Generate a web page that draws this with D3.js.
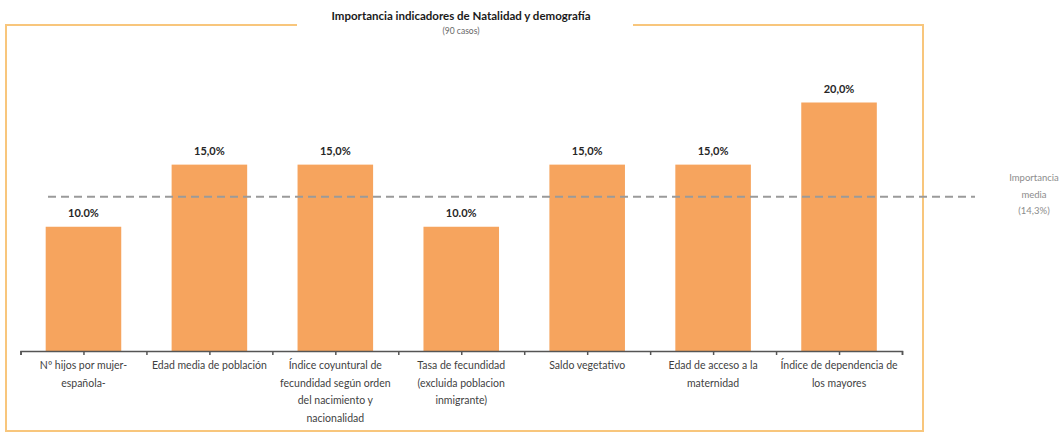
<!DOCTYPE html>
<html>
<head>
<meta charset="utf-8">
<script src="https://cdn.jsdelivr.net/npm/d3@7/dist/d3.min.js"></script>
<style>
  html, body { margin: 0; padding: 0; background: #fff; }
  svg { display: block; font-family: Lato, "Open Sans", sans-serif; }
</style>
</head>
<body>
<svg id="chart" width="1063" height="433"></svg>
<script>
// Indicator names (multi-line labels under the axis)
const categories = [
  ["Nº hijos por mujer-", "española-"],
  ["Edad media de población"],
  ["Índice coyuntural de", "fecundidad según orden", "del nacimiento y", "nacionalidad"],
  ["Tasa de fecundidad", "(excluida poblacion", "inmigrante)"],
  ["Saldo vegetativo"],
  ["Edad de acceso a la", "maternidad"],
  ["Índice de dependencia de", "los mayores"]
];
// Importance of each indicator, in percent
const values = [10, 15, 15, 10, 15, 15, 20];
// Decimal separator used in each value label
const separators = [".", ",", ",", ".", ",", ",", ","];

const title = "Importancia indicadores de Natalidad y demografía";
const subtitle = "(90 casos)";
const meanLabel = ["Importancia", "media"];

const svg = d3.select("#chart");

const frame = { left: 6, top: 25, right: 923, bottom: 431, gapL: 297, gapR: 633 };
const plot = { left: 20.5, right: 902, top: 102.5, base: 351 };

const keys = categories.map((_, i) => i);
const x = d3.scaleBand().domain(keys).range([plot.left, plot.right])
  .paddingInner(0.4).paddingOuter(0.2);
const y = d3.scaleLinear().domain([0, 20]).range([plot.base, plot.top]);
// secondary scale for the average line
const y2 = d3.scaleLinear().domain([0, 23]).range([plot.base, plot.top]);

// outer frame, opened at the top for the title
const frameColor = "#F8C67C";
svg.append("path")
  .attr("fill", "none").attr("stroke", frameColor).attr("stroke-width", 2)
  .attr("d", `M${frame.gapL},${frame.top} H${frame.left} V${frame.bottom} H${frame.right} V${frame.top} H${frame.gapR}`);

// title
svg.append("text").attr("x", 461).attr("y", 20).attr("text-anchor", "middle")
  .attr("font-size", 11.5).attr("font-weight", "bold").attr("fill", "#1a1a1a").text(title);
svg.append("text").attr("x", 461).attr("y", 34).attr("text-anchor", "middle")
  .attr("font-size", 8.5).attr("fill", "#666").text(subtitle);

// bars
svg.append("g").selectAll("rect").data(values).join("rect")
  .attr("x", (d, i) => x(i))
  .attr("y", d => y(d))
  .attr("width", x.bandwidth())
  .attr("height", d => y(0) - y(d))
  .attr("fill", "#F6A45E");

// value labels
svg.append("g").selectAll("text").data(values).join("text")
  .attr("x", (d, i) => x(i) + x.bandwidth() / 2)
  .attr("y", d => y(d) - 10)
  .attr("text-anchor", "middle")
  .attr("font-size", 11)
  .attr("font-weight", "bold")
  .attr("fill", "#262626")
  .text((d, i) => d.toFixed(1).replace(".", separators[i]) + "%");

// category axis with ticks at slot edges and centres
const tickScale = d3.scaleLinear().domain([0, categories.length * 2]).range([plot.left, plot.right]);
const axis = d3.axisBottom(tickScale).ticks(categories.length * 2).tickSize(4).tickSizeOuter(4).tickFormat("");
const ag = svg.append("g").attr("transform", `translate(0,${plot.base})`).call(axis);
ag.selectAll("path, line").attr("stroke", "#555").attr("stroke-width", 1.5);

// category labels
const lg = svg.append("g").attr("font-size", 10.5).attr("fill", "#3f3f3f").attr("text-anchor", "middle");
categories.forEach((lines, i) => {
  const cx = x(i) + x.bandwidth() / 2;
  const t = lg.append("text").attr("x", cx).attr("y", 369);
  lines.forEach((l, j) => t.append("tspan").attr("x", cx).attr("dy", j ? 17.5 : 0).text(l));
});

// average importance line
const mean = d3.mean(values);
svg.append("line")
  .attr("x1", 48).attr("x2", 975)
  .attr("y1", y2(mean)).attr("y2", y2(mean))
  .attr("stroke", "#9a9a9a").attr("stroke-width", 2).attr("stroke-dasharray", "8,5");

const meanLines = [...meanLabel, "(" + mean.toFixed(1).replace(".", ",") + "%)"];
const mg = svg.append("g")
  .attr("font-size", 9.5).attr("fill", "#8c8c8c").attr("text-anchor", "middle");
meanLines.forEach((l, j) => {
  mg.append("text").attr("x", 1034).attr("y", 181 + j * 16.5).text(l);
});
</script>
</body>
</html>
